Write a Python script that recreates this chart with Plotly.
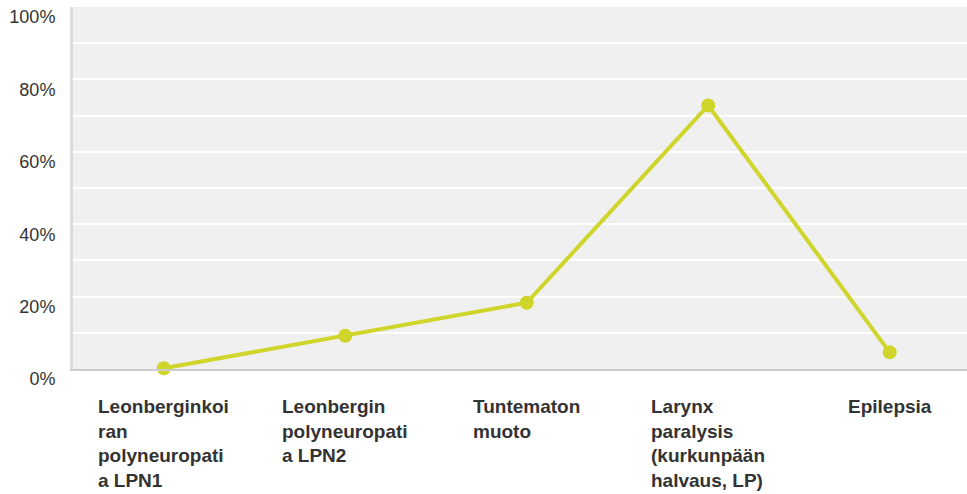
import plotly.graph_objects as go

categories = [
    "Leonberginkoi<br>ran<br>polyneuropati<br>a LPN1",
    "Leonbergin<br>polyneuropati<br>a LPN2",
    "Tuntematon<br>muoto",
    "Larynx<br>paralysis<br>(kurkunpään<br>halvaus, LP)",
    "Epilepsia",
]
values = [0.2, 9.2, 18.3, 72.8, 4.6]
ytick_vals = [0, 20, 40, 60, 80, 100]
ytick_text = ["0%", "20%", "40%", "60%", "80%", "100%"]

LINE = "#cfd52a"
x_idx = list(range(len(categories)))

fig = go.Figure()
fig.add_trace(go.Scatter(
    x=x_idx, y=values, mode="lines+markers",
    line=dict(color=LINE, width=4),
    marker=dict(color=LINE, size=14),
    hoverinfo="skip", showlegend=False, cliponaxis=False,
))

for i, lab in enumerate(categories):
    bold = "<br>".join("<b>%s</b>" % part for part in lab.split("<br>"))
    fig.add_annotation(
        x=i, xref="x", y=0, yref="paper", yanchor="top", xanchor="center",
        text=bold, align="left", showarrow=False, yshift=-25,
        font=dict(family="Liberation Sans, Arial, sans-serif", size=19, color="#333333"),
    )

fig.update_layout(
    width=967, height=494,
    margin=dict(l=73, r=0, t=7, b=125, autoexpand=False),
    paper_bgcolor="white", plot_bgcolor="#f0f0f0",
    font=dict(family="Liberation Sans, Arial, sans-serif", size=18, color="#333333"),
    xaxis=dict(range=[-0.5, 4.426], showgrid=False, zeroline=False, automargin=False,
               showticklabels=False, showline=True, linecolor="#cccccc", linewidth=2,
               fixedrange=True),
    yaxis=dict(range=[0, 100], tickvals=ytick_vals, ticktext=ytick_text,
               showgrid=True, gridcolor="white", gridwidth=2, automargin=False,
               minor=dict(dtick=10, showgrid=True, gridcolor="white", gridwidth=2),
               zeroline=False, showline=True, linecolor="#dddddd", linewidth=3,
               ticks="", ticklabelstandoff=11, ticklabelshift=10,
               tickfont=dict(size=18, color="#333333"), fixedrange=True),
)

fig.write_html("out.html", config={"displayModeBar": False},
               post_script="document.body.style.margin='0';document.body.style.overflow='hidden';")
